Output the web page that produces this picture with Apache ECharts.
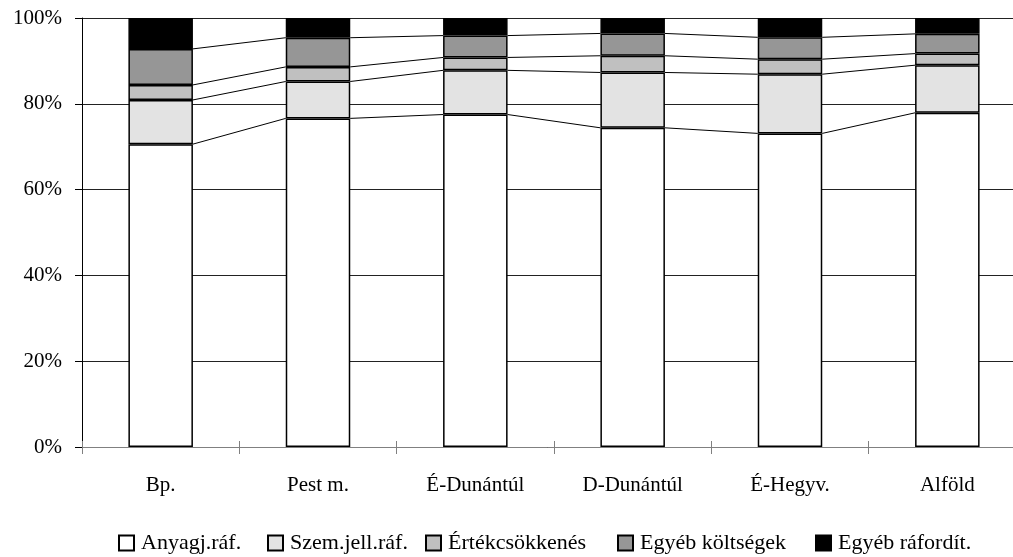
<!DOCTYPE html>
<html>
<head>
<meta charset="utf-8">
<script src="https://cdn.jsdelivr.net/npm/echarts@6/dist/echarts.min.js"></script>
<style>
  html, body { margin: 0; padding: 0; background: #fff; }
  #chart { width: 1013px; height: 557px; }
</style>
</head>
<body>
<div id="chart"></div>
<script>
// regions (categories)
const regions = ['Bp.', 'Pest m.', 'É-Dunántúl', 'D-Dunántúl', 'É-Hegyv.', 'Alföld']

// cost shares, %
const anyag = [70.6, 76.6, 77.5, 74.4, 73.1, 77.9]
const szemely = [10.3, 8.6, 10.3, 12.9, 13.8, 11.1]
const ertekcs = [3.5, 3.4, 3.0, 3.9, 3.5, 2.7]
const egyebKolts = [8.4, 6.8, 5.1, 5.2, 5.1, 4.6]
const egyebRaf = [7.2, 4.6, 4.1, 3.6, 4.5, 3.7]

const seriesNames = ['Anyagj.ráf.', 'Szem.jell.ráf.', 'Értékcsökkenés', 'Egyéb költségek', 'Egyéb ráfordít.']
const seriesData = [anyag, szemely, ertekcs, egyebKolts, egyebRaf]
const seriesColors = ['#ffffff', '#e3e3e3', '#c0c0c0', '#969696', '#000000']

const FONT = 'Liberation Serif'
const BAR_RATIO = 0.41
// x of each legend entry (original text is letter-spaced, so place them one by one)
const legendLeft = [113, 262, 420, 612, 810]

// cumulative tops of the first 4 layers -> series lines between bars
const linkData = []
for (let s = 0; s < 4; s++) {
  for (let i = 0; i < regions.length - 1; i++) {
    let a = 0, b = 0
    for (let k = 0; k <= s; k++) {
      a += seriesData[k][i]
      b += seriesData[k][i + 1]
    }
    linkData.push([i, a, b])
  }
}

const chart = echarts.init(document.getElementById('chart'))

const option = {
  backgroundColor: '#fff',
  animation: false,
  textStyle: { fontFamily: FONT, color: '#000' },
  // plot area runs past the right edge of the picture (cropped in the original)
  grid: { left: 82, width: 944, top: 18, height: 429, outerBoundsMode: 'none' },
  legend: seriesNames.map((name, i) => ({
    left: legendLeft[i],
    top: 527,
    itemWidth: 15,
    itemHeight: 15,
    icon: 'rect',
    data: [name],
    textStyle: { fontFamily: FONT, fontSize: 22, color: '#000', padding: [0, 0, 0, 2] },
  })),
  xAxis: [
    {
      type: 'category',
      data: regions,
      axisLine: { lineStyle: { color: '#808080', width: 1 } },
      axisTick: { show: true, length: 7, lineStyle: { color: '#808080' } },
      axisLabel: { fontFamily: FONT, fontSize: 21, color: '#000', margin: 28 },
      splitLine: { show: false },
    },
    {
      type: 'category',
      data: regions,
      position: 'bottom',
      axisLine: { show: false },
      axisTick: { show: true, inside: true, length: 6, lineStyle: { color: '#808080' } },
      axisLabel: { show: false },
      splitLine: { show: false },
    },
  ],
  yAxis: {
    type: 'value',
    min: 0,
    max: 100,
    interval: 20,
    axisLine: { show: true, lineStyle: { color: '#000', width: 1 } },
    axisTick: { show: true, length: 7, lineStyle: { color: '#000' } },
    axisLabel: { fontFamily: FONT, fontSize: 21, color: '#000', margin: 20, formatter: '{value}%' },
    splitLine: { show: true, lineStyle: { color: '#222', width: 1 } },
  },
  series: [
    ...seriesNames.map((name, idx) => ({
      name,
      type: 'bar',
      stack: 'total',
      barWidth: BAR_RATIO * 100 + '%',
      data: seriesData[idx],
      itemStyle: { color: seriesColors[idx], borderColor: '#000', borderWidth: 1.5 },
      emphasis: { disabled: true },
    })),
    {
      name: 'links',
      type: 'custom',
      data: linkData,
      z: 3,
      silent: true,
      renderItem: (params, api) => {
        const i = api.value(0)
        const p1 = api.coord([i, api.value(1)])
        const p2 = api.coord([i + 1, api.value(2)])
        const half = api.size([1, 0])[0] * BAR_RATIO / 2
        return {
          type: 'line',
          shape: { x1: p1[0] + half, y1: p1[1], x2: p2[0] - half, y2: p2[1] },
          style: { stroke: '#000', lineWidth: 1 },
        }
      },
    },
  ],
}

chart.setOption(option)
</script>
</body>
</html>
